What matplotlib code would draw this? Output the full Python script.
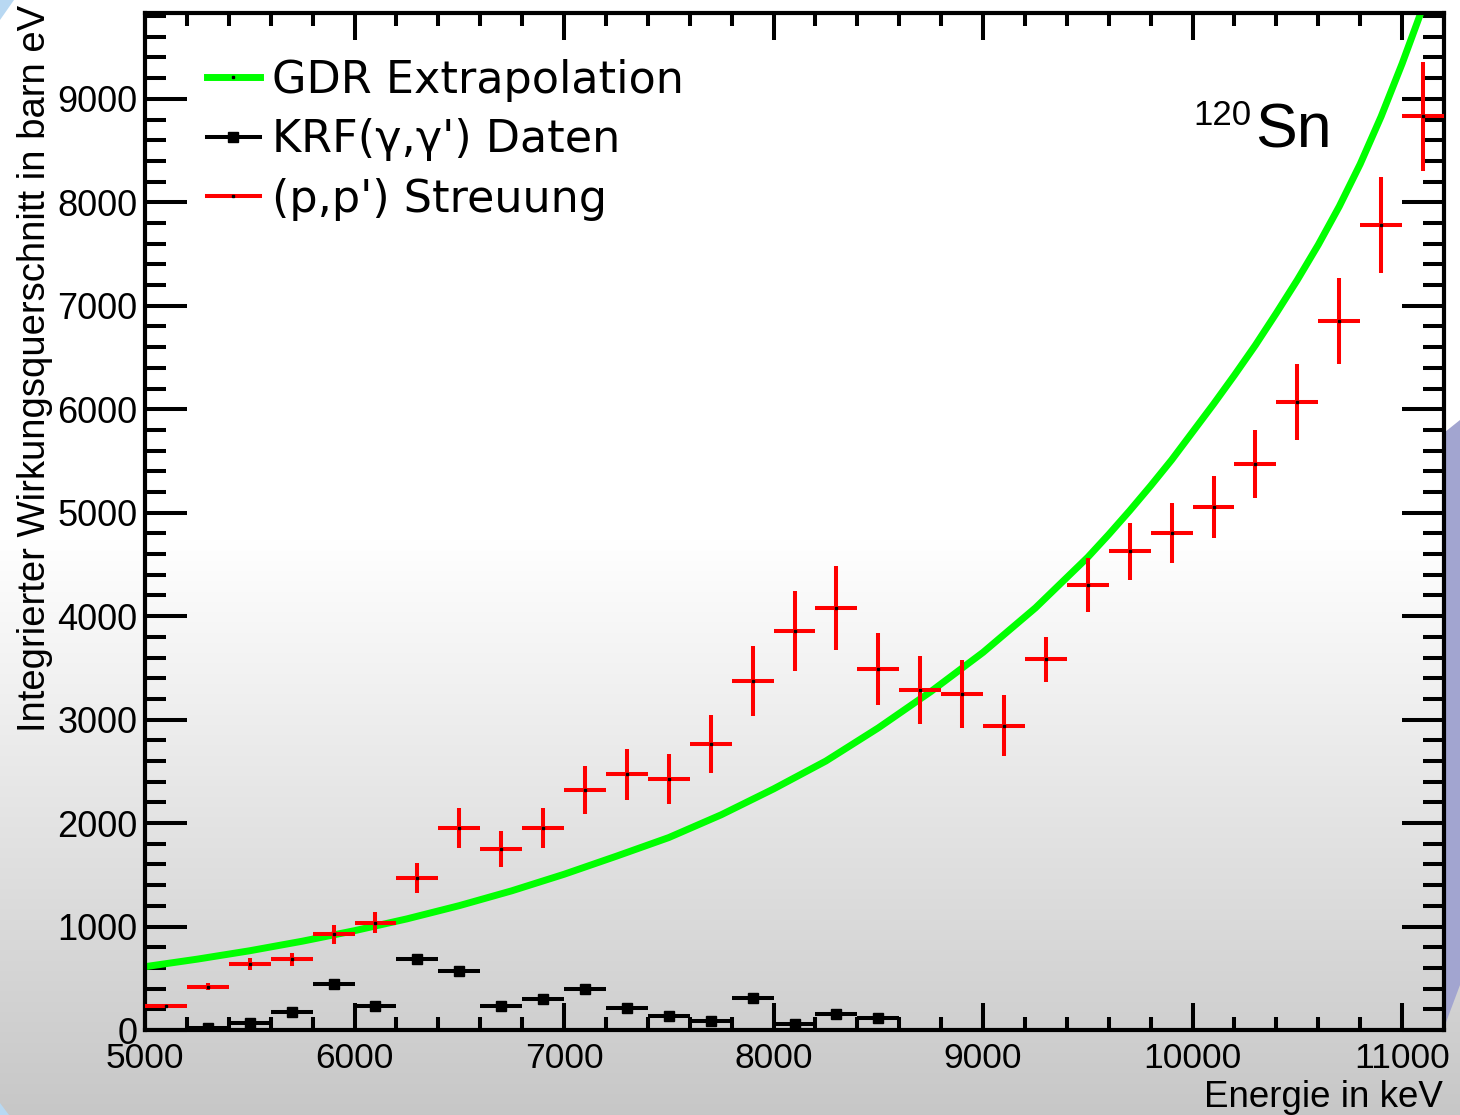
import numpy as np
import matplotlib
matplotlib.use("Agg")
import matplotlib.pyplot as plt
from matplotlib.lines import Line2D
from matplotlib.patches import Polygon
from matplotlib.ticker import MultipleLocator

plt.rcParams['font.family'] = ['Liberation Sans', 'DejaVu Sans']

# ---------------- data ----------------
pp_energy = [5100, 5300, 5500, 5700, 5900, 6100, 6300, 6500, 6700, 6900,
             7100, 7300, 7500, 7700, 7900, 8100, 8300, 8500, 8700, 8900,
             9100, 9300, 9500, 9700, 9900, 10100, 10300, 10500, 10700, 10900, 11100]
pp_value = [232, 419, 638, 683, 925, 1037, 1472, 1955, 1746, 1955,
            2319, 2473, 2425, 2763, 3369, 3858, 4080, 3488, 3285, 3246,
            2940, 3582, 4300, 4628, 4802, 5053, 5469, 6071, 6853, 7781, 8831]
pp_error = [8, 37, 60, 65, 89, 103, 145, 195, 174, 195,
            232, 246, 242, 279, 338, 386, 409, 349, 330, 327,
            295, 217, 258, 275, 290, 300, 329, 364, 411, 467, 528]

krf_energy = [5300, 5500, 5700, 5900, 6100, 6300, 6500, 6700, 6900,
              7100, 7300, 7500, 7700, 7900, 8100, 8300, 8500]
krf_value = [22, 65, 177, 441, 229, 686, 573, 229, 300,
             393, 209, 135, 87, 306, 55, 155, 119]

gdr_energy = [5000, 5250, 5500, 5750, 6000, 6250, 6500, 6750, 7000, 7250,
              7500, 7750, 8000, 8250, 8500, 8750, 9000, 9250, 9500, 9600,
              9700, 9800, 9900, 10000, 10100, 10200, 10300, 10400, 10500, 10600,
              10700, 10800, 10900, 11000, 11100]
gdr_value = [612, 685, 766, 858, 960, 1074, 1202, 1345, 1505, 1680,
             1860, 2080, 2330, 2600, 2920, 3270, 3650, 4080, 4570, 4790,
             5020, 5260, 5510, 5780, 6050, 6330, 6620, 6930, 7250, 7590,
             7960, 8370, 8830, 9340, 9890]

bin_half_width = 100
x_ticks = [5000, 6000, 7000, 8000, 9000, 10000, 11000]
y_ticks = [0, 1000, 2000, 3000, 4000, 5000, 6000, 7000, 8000, 9000]

legend_labels = ["GDR Extrapolation", "KRF(γ,γ') Daten", "(p,p') Streuung"]

# ---------------- figure ----------------
W, H = 1460, 1115
fig = plt.figure(figsize=(W / 100, H / 100), dpi=100)

# background (slide gradient + decoration)
bg = fig.add_axes([0, 0, 1, 1])
bg.set_zorder(-5)
bg.set_xlim(0, W)
bg.set_ylim(H, 0)
bg.axis('off')
rows = np.arange(H)
shade = np.where(rows < 540, 1.0, 1.0 - 0.22 * (rows - 540) / 575.0)
img = np.repeat(shade[:, None, None], 3, axis=2)
bg.imshow(img, extent=[0, W, H, 0], aspect='auto', interpolation='bilinear')
bg.add_patch(Polygon([[1445, 432], [1460, 420], [1460, 985], [1445, 1025]],
                     closed=True, facecolor='#a2a5d0', edgecolor='none'))
bg.add_patch(Polygon([[0, 0], [14, 0], [0, 20]], closed=True,
                     facecolor='#b8d8f2', edgecolor='none'))
bg.add_patch(Polygon([[0, 1103], [0, 1115], [9, 1115]], closed=True,
                     facecolor='#b8d8f2', edgecolor='none'))

# main axes
ax = fig.add_axes([145 / W, (H - 1030) / H, (1444 - 145) / W, (1030 - 13) / H])
ax.set_zorder(1)
ax.patch.set_alpha(0)

ax.plot(gdr_energy, gdr_value, color='#00ff00', lw=5, zorder=2,
        solid_capstyle='butt', solid_joinstyle='round')
ax.errorbar(krf_energy, krf_value, xerr=bin_half_width, fmt='s', ms=7.2,
            color='black', elinewidth=2.9, capsize=0, zorder=3)
ax.errorbar(pp_energy, pp_value, xerr=bin_half_width, yerr=pp_error, fmt='s',
            ms=1.6, mfc='black', mec='black', ecolor='#ff0000',
            elinewidth=2.9, capsize=0, zorder=4)

ax.set_xlim(5000, 11200)
ax.set_ylim(0, 9830)
ax.set_xticks(x_ticks)
ax.set_yticks(y_ticks)
ax.xaxis.set_minor_locator(MultipleLocator(200))
ax.yaxis.set_minor_locator(MultipleLocator(200))

ax.tick_params(axis='x', which='major', direction='in', length=19.4, width=2.9,
               top=True, bottom=True, labelsize=25.5, pad=9)
ax.tick_params(axis='x', which='minor', direction='in', length=9.4, width=2.9,
               top=True, bottom=True)
ax.tick_params(axis='y', which='major', direction='in', length=30, width=2.9,
               left=True, right=True, labelsize=26, pad=5.5)
ax.tick_params(axis='y', which='minor', direction='in', length=15, width=2.9,
               left=True, right=True)
for s in ax.spines.values():
    s.set_linewidth(3)

# axis titles (ROOT style, right adjusted)
fig.text(1443 / W, 1 - 1107 / H, "Energie in keV", ha='right', va='baseline',
         fontsize=26.5)
fig.text(45 / W, 1 - 5 / H, "Integrierter Wirkungsquerschnitt in barn eV",
         rotation=90, rotation_mode='anchor', ha='right', va='baseline',
         fontsize=27.5)

# nucleus label
fig.text(1255 / W, 1 - 147 / H, "Sn", ha='left', va='baseline', fontsize=45)
fig.text(1252 / W, 1 - 125 / H, "120", ha='right', va='baseline', fontsize=25)

# legend
handles = [
    Line2D([], [], color='#00ff00', lw=5, marker='s', ms=1.6, mfc='k', mec='k'),
    Line2D([], [], color='black', lw=2.9, marker='s', ms=7.2),
    Line2D([], [], color='#ff0000', lw=2.9, marker='s', ms=1.6, mfc='k', mec='k'),
]
ax.legend(handles, legend_labels, loc='upper left',
          bbox_to_anchor=(0.0477, 0.955), frameon=False,
          handlelength=1.19, handletextpad=0.27, labelspacing=0.37,
          borderpad=0, borderaxespad=0,
          prop={'family': 'DejaVu Sans', 'size': 32})

fig.savefig("out.png", dpi=100)
